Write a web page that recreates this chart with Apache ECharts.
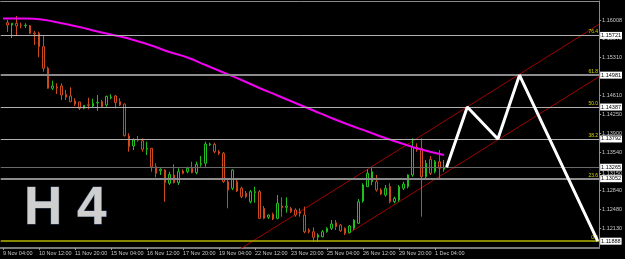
<!DOCTYPE html>
<html><head><meta charset="utf-8">
<script src="https://cdn.jsdelivr.net/npm/echarts@6/dist/echarts.min.js"></script>
<style>html,body{margin:0;padding:0;background:#000;}#c{width:625px;height:259px;}</style>
</head><body><div id="c"></div>
<script>
// ---- data ----
const timeLabels = ['9 Nov 04:00','10 Nov 12:00','11 Nov 20:00','15 Nov 04:00','16 Nov 12:00','17 Nov 20:00','19 Nov 04:00','22 Nov 12:00','23 Nov 20:00','25 Nov 04:00','26 Nov 12:00','29 Nov 20:00','1 Dec 04:00'];
const labelStep = 8;          // H4 bars between time labels
const slotCount = 133;        // bar slots on the time axis (incl. future space)
// [open, close, low, high] for bars 1..98
const candles = [
[1.15958,1.15915,1.15785,1.16008],[1.15915,1.15947,1.15673,1.15953],[1.15947,1.15897,1.15710,1.16083],[1.15915,1.15906,1.15854,1.15958],
[1.15902,1.15910,1.15859,1.15947],[1.15902,1.15761,1.15748,1.15915],[1.15766,1.15748,1.15543,1.15803],[1.15761,1.15511,1.15314,1.15790],
[1.15511,1.15109,1.15045,1.15729],[1.15109,1.14736,1.14730,1.15138],[1.14736,1.14779,1.14704,1.14878],[1.14760,1.14742,1.14630,1.14829],
[1.14779,1.14611,1.14518,1.14829],[1.14624,1.14568,1.14518,1.14704],[1.14593,1.14486,1.14480,1.14755],[1.14499,1.14443,1.14406,1.14550],
[1.14481,1.14363,1.14332,1.14486],[1.14363,1.14419,1.14345,1.14425],[1.14430,1.14419,1.14345,1.14561],[1.14406,1.14457,1.14382,1.14542],
[1.14462,1.14475,1.14319,1.14611],[1.14486,1.14393,1.14382,1.14518],[1.14425,1.14587,1.14393,1.14598],[1.14561,1.14574,1.14531,1.14624],
[1.14593,1.14468,1.14363,1.14611],[1.14486,1.14425,1.14406,1.14550],[1.14443,1.13853,1.13838,1.14453],[1.13847,1.13648,1.13555,1.13898],
[1.13661,1.13773,1.13586,1.13804],[1.13778,1.13767,1.13741,1.13847],[1.13760,1.13600,1.13555,1.13804],[1.13600,1.13618,1.13493,1.13741],
[1.13618,1.13275,1.13182,1.13625],[1.13275,1.13152,1.13078,1.13339],[1.13201,1.13227,1.13121,1.13246],[1.13214,1.12977,1.12623,1.13227],
[1.12966,1.13134,1.12934,1.13182],[1.13121,1.12977,1.12966,1.13320],[1.12977,1.13182,1.12934,1.13246],[1.13195,1.13152,1.13134,1.13227],
[1.13182,1.13246,1.13152,1.13275],[1.13246,1.13164,1.13152,1.13369],[1.13164,1.13320,1.13134,1.13369],[1.13320,1.13339,1.13275,1.13475],
[1.13339,1.13698,1.13275,1.13741],[1.13685,1.13698,1.13661,1.13723],[1.13693,1.13555,1.13525,1.13723],[1.13555,1.13525,1.13493,1.13586],
[1.13525,1.12996,1.12972,1.13549],[1.12996,1.12841,1.12500,1.13028],[1.12873,1.13214,1.12841,1.13227],[1.12996,1.12823,1.12804,1.13028],
[1.12873,1.12717,1.12687,1.12903],[1.12780,1.12717,1.12687,1.12823],[1.12623,1.12810,1.12593,1.12841],[1.12791,1.12810,1.12605,1.12903],
[1.12810,1.12314,1.12301,1.12841],[1.12500,1.12314,1.12296,1.12543],[1.12333,1.12376,1.12301,1.12389],[1.12389,1.12301,1.12282,1.12418],
[1.12314,1.12593,1.12296,1.12748],[1.12543,1.12512,1.12344,1.12705],[1.12519,1.12543,1.12418,1.12705],[1.12500,1.12437,1.12413,1.12524],
[1.12469,1.12376,1.12344,1.12500],[1.12437,1.12407,1.12344,1.12500],[1.12376,1.12064,1.12035,1.12530],[1.12096,1.12064,1.12035,1.12128],
[1.12064,1.11960,1.11878,1.12146],[1.11960,1.12003,1.11878,1.12035],[1.11971,1.12064,1.11960,1.12096],[1.12064,1.12128,1.12046,1.12146],
[1.12128,1.12208,1.12096,1.12282],[1.12232,1.12158,1.12096,1.12282],[1.12189,1.12083,1.12064,1.12208],[1.12128,1.12035,1.12003,1.12146],
[1.12046,1.12171,1.12035,1.12189],[1.12128,1.12282,1.12096,1.12296],[1.12221,1.12623,1.12208,1.12674],[1.12636,1.12934,1.12605,1.12966],
[1.12903,1.13152,1.12900,1.13227],[1.12996,1.13182,1.12934,1.13275],[1.12996,1.12841,1.12810,1.13121],[1.12841,1.12767,1.12748,1.12873],
[1.12748,1.12873,1.12717,1.12934],[1.12903,1.12623,1.12593,1.12966],[1.12623,1.12687,1.12593,1.12717],[1.12655,1.12903,1.12623,1.12934],
[1.12873,1.12953,1.12841,1.12996],[1.12903,1.13121,1.12873,1.13134],[1.13121,1.13637,1.13089,1.13804],[1.13637,1.13586,1.13555,1.13711],
[1.13618,1.13089,1.12344,1.13804],[1.13089,1.13339,1.13065,1.13400],[1.13413,1.13152,1.13121,1.13475],[1.13182,1.13369,1.13152,1.13400],
[1.13369,1.13246,1.13028,1.13586],[1.13227,1.13265,1.13182,1.13400]
];
// moving average (bar index, price)
const maBars   = [0,5,9,13,17,21,25,29,33,37,41,45,49,53,57,61,65,69,73,77,81,85,89,93,98];
const maValues = [1.16036,1.16036,1.16012,1.15947,1.15878,1.15794,1.15720,1.15636,1.15533,1.15412,1.15310,1.15170,1.15030,1.14891,1.14742,1.14602,1.14462,1.14322,1.14183,1.14052,1.13931,1.13810,1.13698,1.13596,1.13493];
// channel lines (bar index, price)
const channelUpperBars = [50.9, 132.5], channelUpperPrices = [1.11647, 1.15928];
const channelLowerBars = [76.7, 132.5], channelLowerPrices = [1.12029, 1.14954];
// projected path
const projBars   = [98.6, 103.2, 110.0, 114.8, 132.2];
const projPrices = [1.13265, 1.14387, 1.13792, 1.14981, 1.11888];
// fibonacci levels
const fibNames  = ['76.4','61.8','50.0','38.2','23.6','0.0'];
const fibValues = [1.15721,1.14981,1.14387,1.13792,1.13052,1.11888];
const currentPrice = 1.13265;
// price scale
const priceTicks = [1.11760,1.12130,1.12480,1.12840,1.13150,1.13540,1.13900,1.14250,1.14610,1.14950,1.15310,1.15670,1.16008];
const priceMin = 1.11761, priceMax = 1.16362;

// ---- build ----
const cats = [];
for (let i = 0; i < slotCount; i++) cats.push(i % labelStep === 0 && timeLabels[i / labelStep] ? timeLabels[i / labelStep] : '');
const candleData = candles.map((c, i) => [i + 1, c[0], c[1], c[2], c[3]]);
const zip = (a, b) => a.map((v, i) => [v, b[i]]);
const FONT = 'Liberation Sans';
const fibStyles = [
  {color:'#b0b0b0', width:1},{color:'#8c8c8c', width:2},{color:'#b0b0b0', width:1},
  {color:'#b0b0b0', width:1},{color:'#8c8c8c', width:2},{color:'#b4b400', width:1.5}
];
const boxLabel = {show:true, position:'end', distance:1, formatter: p => Number(p.value).toFixed(5),
  backgroundColor:'#ffffff', color:'#000', fontSize:5.5, fontFamily:FONT, padding:[1,1,0,1], lineHeight:6};

const chart = echarts.init(document.getElementById('c'), null, {renderer:'canvas'});
chart.setOption({
  animation:false,
  backgroundColor:'#000000',
  grid:{left:-5.2, right:22, top:1, bottom:11, containLabel:false},
  xAxis:[
    {type:'category', data:cats, boundaryGap:true, position:'bottom',
     axisLine:{show:true, lineStyle:{color:'#7a7a7a', width:2}},
     axisTick:{show:true, alignWithLabel:true, interval:(i, v) => v !== '', length:2, lineStyle:{color:'#9a9a9a'}},
     axisLabel:{interval:(i, v) => v !== '', align:'left', color:'#c8c8c8', fontSize:5.5, fontFamily:FONT, margin:2},
     splitLine:{show:false}},
    {type:'value', min:-0.5, max:slotCount - 0.5, position:'top',
     axisLine:{show:true, onZero:false, lineStyle:{color:'#8a8a8a', width:1}},
     axisTick:{show:false}, axisLabel:{show:false}, splitLine:{show:false}}
  ],
  yAxis:{type:'value', position:'right', min:priceMin, max:priceMax, scale:true,
     axisLine:{show:true, onZero:false, lineStyle:{color:'#8a8a8a', width:1}},
     axisTick:{show:true, length:2, customValues:priceTicks, lineStyle:{color:'#9a9a9a'}},
     axisLabel:{customValues:priceTicks, formatter:v => v.toFixed(5), color:'#c8c8c8', fontSize:5.5, fontFamily:FONT, margin:3},
     splitLine:{show:false}},
  graphic:[{type:'text', x:24, y:209, z:0,
     style:{text:'H 4', font:'bold 53px "Liberation Sans"', fill:'#cfcfcf', stroke:'#39506e', lineWidth:1, verticalAlign:'middle'}}],
  series:[
    {type:'candlestick', xAxisIndex:0, yAxisIndex:0, data:candleData, encode:{x:0, y:[1,2,3,4]},
     barWidth:2,
     itemStyle:{color:'#000', color0:'#000', borderColor:'#1fbf1f', borderColor0:'#cc4a1c', borderWidth:1},
     z:3},
    {type:'line', xAxisIndex:1, data:zip(maBars, maValues), showSymbol:false, smooth:0.5,
     lineStyle:{color:'#f000f0', width:2}, z:4,
     markLine:{silent:true, symbol:'none', animation:false, precision:5,
       data:fibValues.concat([currentPrice]).map(v => ({yAxis:v})),
       lineStyle:{color:'rgba(0,0,0,0)', width:0}, label:boxLabel}},
    {type:'line', xAxisIndex:1, data:zip(channelUpperBars, channelUpperPrices), showSymbol:false,
     lineStyle:{color:'#a00000', width:1}, z:2},
    {type:'line', xAxisIndex:1, data:zip(channelLowerBars, channelLowerPrices), showSymbol:false,
     lineStyle:{color:'#a00000', width:1}, z:2},
    {type:'line', xAxisIndex:1, data:zip(projBars, projPrices), showSymbol:false,
     lineStyle:{color:'#ffffff', width:3}, z:5,
     markLine:{silent:true, symbol:'none', animation:false, precision:5,
       data:fibValues.map((v, i) => ({yAxis:v, lineStyle:{type:'solid', color:fibStyles[i].color, width:fibStyles[i].width},
          label:{show:true, position:'insideEndTop', distance:[1,1], formatter:fibNames[i], color:'#d4d400', fontSize:5, fontFamily:FONT}}))
         .concat([{yAxis:currentPrice, lineStyle:{type:'solid', color:'#6a6a6a', width:1}, label:{show:false}}])}}
  ]
});
</script></body></html>
